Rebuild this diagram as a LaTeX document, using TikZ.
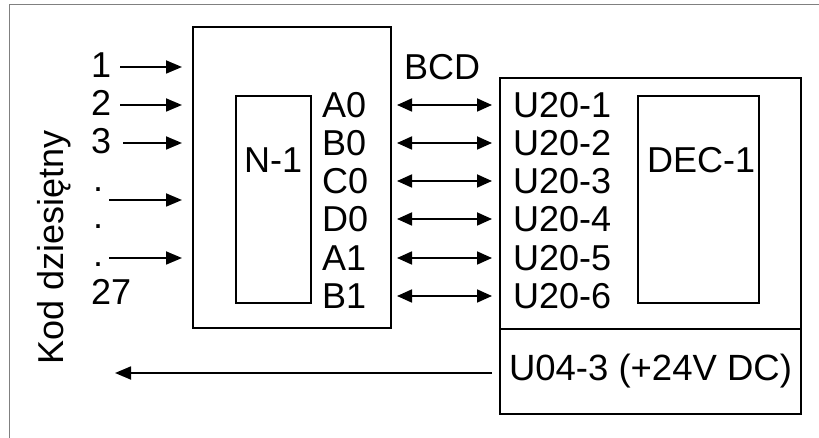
\documentclass[tikz,border=0pt]{standalone}
\usepackage{fontspec}
\setmainfont{Liberation Sans}
\usetikzlibrary{arrows.meta}
\begin{document}
\begin{tikzpicture}[x=1pt,y=-1pt,
  lbl/.style={font=\fontsize{36}{40}\selectfont, inner sep=0pt, anchor=base west},
  box/.style={draw, line width=2pt, inner sep=0pt, outer sep=0pt},
  inbox/.style={draw, line width=1.6pt, inner sep=0pt, outer sep=0pt},
  sig/.style={line width=1.8pt, -{Triangle[length=16pt,width=13pt]}},
  bisig/.style={line width=1.8pt, {Triangle[length=15pt,width=13pt]}-{Triangle[length=15pt,width=13pt]}},
  frame/.style={draw=black!50, line width=1.2pt}]
\useasboundingbox (0,0) rectangle (819,438);
% outer frame
\coordinate (fbl) at (9.5,438);
\coordinate (ftl) at (9.5,4.5);
\coordinate (ftr) at (819,4.5);
\draw[frame] (fbl) -- (ftl) -- (ftr);
% boxes
\node[box, minimum width=198pt, minimum height=301pt] (N) at (292,177.5) {};
\node[inbox, minimum width=75pt, minimum height=207pt] (Nin) at (273.5,199.5) {};
\node[box, minimum width=301pt, minimum height=251pt] (D) at (650.5,203.5) {};
\node[box, minimum width=301pt, minimum height=85pt, font=\fontsize{36.5}{40}\selectfont] (P) at (650.5,371.5) {U04-3 (+24V DC)};
\node[inbox, minimum width=121pt, minimum height=207pt] (Din) at (698.5,199.5) {};
% titles
\node[lbl] (n1) at (244,173) {N-1};
\node[lbl] (dec) at (647,173) {DEC-1};
\node[lbl] (bcd) at (404,80) {BCD};
\node[lbl, rotate=90] (kod) at (63,365) {Kod dziesiętny};
% left input labels
\node[lbl] (i1) at (91,78) {1};
\node[lbl] (i2) at (91,116) {2};
\node[lbl] (i3) at (91,154) {3};
\node[lbl] (d1) at (93,192) {.};
\node[lbl] (d2) at (93,229) {.};
\node[lbl] (d3) at (93,267) {.};
\node[lbl] (i27) at (91,305) {27};
% left input arrows
\coordinate (s1) at (120,67);   \coordinate (e1) at (182,67);
\coordinate (s2) at (120,105);  \coordinate (e2) at (182,105);
\coordinate (s3) at (123,143);  \coordinate (e3) at (182,143);
\coordinate (s4) at (109,200);  \coordinate (e4) at (182,200);
\coordinate (s5) at (109,258);  \coordinate (e5) at (182,258);
\foreach \k in {1,...,5} \draw[sig] (s\k) -- (e\k);
% N-1 output labels and U20 labels
\foreach \t/\u/\y [count=\k] in {A0/U20-1/105,B0/U20-2/143,C0/U20-3/181,D0/U20-4/219,A1/U20-5/258,B1/U20-6/296}{
  \node[lbl] (o\k) at (322,\y+12.5) {\t};
  \node[lbl] (u\k) at (513,\y+12.5) {\u};
  \coordinate (bl\k) at (397,\y);
  \coordinate (br\k) at (492,\y);
  \draw[bisig] (bl\k) -- (br\k);
}
% supply line
\coordinate (vend) at (115,373);
\draw[sig] ([xshift=-8pt]P.west |- vend) -- (vend);
\end{tikzpicture}
\end{document}
